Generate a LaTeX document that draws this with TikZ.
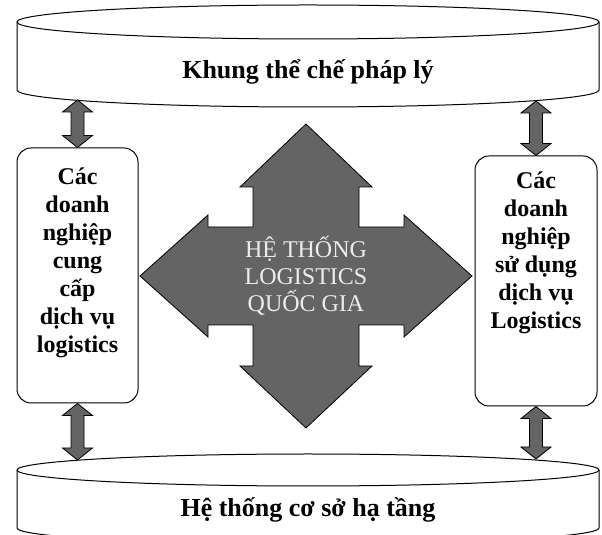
\documentclass[tikz,border=0pt]{standalone}
\usepackage{fontspec}
\setmainfont{Liberation Serif}
\usetikzlibrary{positioning,calc}

\definecolor{blockgray}{RGB}{100,100,100}
\definecolor{paletext}{RGB}{236,236,236}

\tikzset{
  shell/.style={draw=black, line width=1pt, fill=white},
  panel/.style={draw=black, line width=1pt, rounded corners=14pt, fill=white},
  paneltext/.style={align=center, inner sep=0pt, font=\bfseries\fontsize{24}{28}\selectfont},
  bigtext/.style={inner sep=0pt, font=\bfseries\fontsize{26}{30}\selectfont},
  hubtext/.style={align=center, inner sep=0pt, text=paletext, font=\fontsize{24}{27}\selectfont},
  hubarrow/.style={draw=black, line width=0.8pt, fill=blockgray},
  % fat two-headed arrow between two points lying one above the other
  link/.style={draw=black, line width=0.8pt, fill=blockgray, to path={
    let \p1=(\tikztostart), \p2=(\tikztotarget) in
    (\x1,\y1) -- (\x1+15pt,\y1-12pt) -- (\x1+6.5pt,\y1-12pt) -- (\x1+6.5pt,\y2+12pt)
    -- (\x1+15pt,\y2+12pt) -- (\x1,\y2) -- (\x1-15pt,\y2+12pt) -- (\x1-6.5pt,\y2+12pt)
    -- (\x1-6.5pt,\y1-12pt) -- (\x1-15pt,\y1-12pt) -- cycle}}
}

\begin{document}
\begin{tikzpicture}[x=1pt,y=1pt]
    \useasboundingbox (0,0) rectangle (602,535);
    \clip (0,0) rectangle (602,535);

    % legal framework on top
    \draw[shell] (17,513) -- (17,445) arc[start angle=180, end angle=360, x radius=291, y radius=17] -- (599,513);
    \draw[shell] (308,513) ellipse [x radius=291, y radius=17];
    \node[bigtext] (legal) at (308,463) {Khung thể chế pháp lý};

    % infrastructure at the bottom
    \draw[shell] (17,65) -- (17,7) arc[start angle=180, end angle=360, x radius=291, y radius=16] -- (599,65);
    \draw[shell] (308,65) ellipse [x radius=291, y radius=16];
    \node[bigtext] (infra) at (308,25) {Hệ thống cơ sở hạ tầng};

    \coordinate (ltop) at (77.5,435);
    \coordinate (rtop) at (536,434);
    \coordinate (lbot) at (77.5,75);
    \coordinate (rbot) at (536,76);

    % the two groups of firms
    \node[panel, minimum width=121pt, minimum height=255pt] (lbox) at (77.5,259.5) {};
    \node[panel, minimum width=122pt, minimum height=250pt] (rbox) at (536,254) {};
    \node[paneltext, anchor=north] (ltext) at ([yshift=-20pt]lbox.north)
        {Các\\doanh\\nghiệp\\cung\\cấp\\dịch vụ\\logistics};
    \node[paneltext, anchor=north] (rtext) at ([yshift=-16pt]rbox.north)
        {Các\\doanh\\nghiệp\\sử dụng\\dịch vụ\\Logistics};

    % four-way arrow in the middle
    \coordinate (hub) at (306,259);
    \begin{scope}[shift={(hub)}]
    \draw[hubarrow] (0,152) -- (66,89) -- (53,89) -- (53,49) -- (98,49) -- (98,61)
        -- (166,0) -- (98,-61) -- (98,-49) -- (53,-49) -- (53,-90) -- (66,-90)
        -- (0,-152) -- (-66,-90) -- (-53,-90) -- (-53,-49) -- (-98,-49) -- (-98,-61)
        -- (-166,0) -- (-98,61) -- (-98,49) -- (-53,49) -- (-53,89) -- (-66,89) -- cycle;
    \end{scope}
    \node[hubtext] (core) at (hub) {HỆ THỐNG\\LOGISTICS\\QUỐC GIA};

    \draw[link] (ltop) to (lbox.north);
    \draw[link] (lbox.south) to (lbot);
    \draw[link] (rtop) to (rbox.north);
    \draw[link] (rbox.south) to (rbot);
\end{tikzpicture}
\end{document}
